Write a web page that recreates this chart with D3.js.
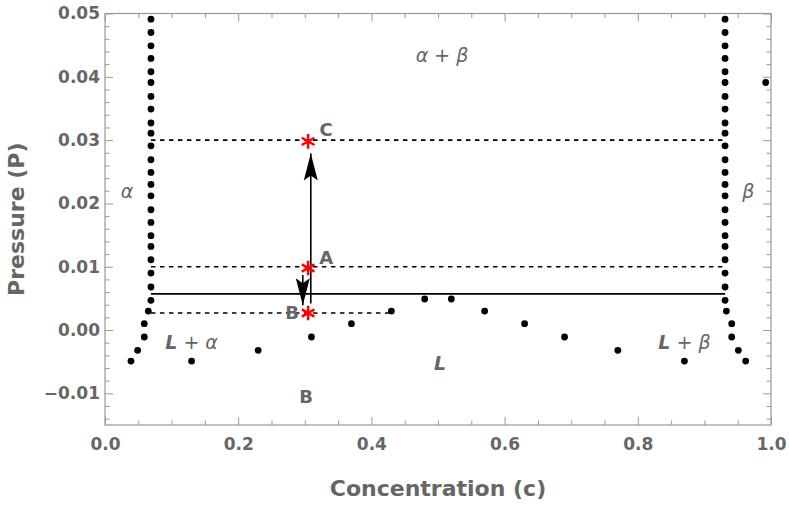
<!DOCTYPE html>
<html>
<head>
<meta charset="utf-8">
<script src="https://cdn.jsdelivr.net/npm/d3@7"></script>
<style>
  body { margin: 0; background: #fff; }
  text { font-family: "DejaVu Sans", sans-serif; fill: #666; }
</style>
</head>
<body>
<div class="chart"></div>
<script>
// data
var colP = [0.0491, 0.0470, 0.0449, 0.0429, 0.0408, 0.0391, 0.0369, 0.0349, 0.0327, 0.0311,
  0.0291, 0.0269, 0.0249, 0.0230, 0.0212, 0.0190, 0.0170, 0.0149, 0.0132, 0.0111,
  0.0090, 0.0068, 0.0047];
var alphaColC = 0.069;
var betaColC = 0.931;
var tailP = [0.0030, 0.0010, -0.0011, -0.0032, -0.0049];
var alphaTailC = [0.065, 0.059, 0.059, 0.049, 0.039];
var betaTailC = [0.933, 0.941, 0.941, 0.951, 0.962];
var liquidC = [0.13, 0.23, 0.31, 0.37, 0.43, 0.48, 0.52, 0.57, 0.63, 0.69, 0.77, 0.87];
var liquidP = [-0.0049, -0.0032, -0.0011, 0.0010, 0.0030, 0.0049, 0.0049, 0.0030, 0.0010, -0.0011, -0.0032, -0.0049];
var strayC = [0.992];
var strayP = [0.0391];

// dashed guide lines: level and where each one stops
var dashLevels = [0.03, 0.01, 0.0027];
var dashEnds = [0.931, 0.931, 0.43];
var tieLineP = 0.0057;

// state points A, B, C
var stateC = 0.305;
var stateP = [0.0298, 0.0098, 0.0027];
var stateNames = ["C", "A", "B"];

// arrows
var arrowC = [0.309, 0.297];
var arrowFrom = [0.0042, 0.0087];
var arrowTo = [0.0279, 0.0039];

var xMajor = [0, 0.2, 0.4, 0.6, 0.8, 1.0];
var yMajor = [-0.01, 0, 0.01, 0.02, 0.03, 0.04, 0.05];

var svgWidth = 789;
var svgHeight = 506;
var margin = { top: 13.5, right: 18, bottom: 81, left: 105 };
var width = svgWidth - margin.left - margin.right;
var height = svgHeight - margin.top - margin.bottom;

var svg = d3.select(".chart")
  .append("svg")
  .attr("width", svgWidth)
  .attr("height", svgHeight);

var chartGroup = svg.append("g")
  .attr("transform", `translate(${margin.left}, ${margin.top})`);

var xScale = d3.scaleLinear().domain([0, 1]).range([0, width]);
var yScale = d3.scaleLinear().domain([-0.015, 0.05]).range([height, 0]);

var xMinor = d3.range(0, 1.0001, 0.05).filter(d => Math.abs(d * 5 - Math.round(d * 5)) > 1e-6);
var yMinor = d3.range(-0.014, 0.0501, 0.002).filter(d => Math.abs(d * 100 - Math.round(d * 100)) > 1e-6);

function styleAxis(g) {
  g.select(".domain").remove();
  g.selectAll("line").attr("stroke", "#999");
  g.selectAll("text")
    .style("font-family", "DejaVu Sans")
    .style("font-weight", "bold")
    .style("font-size", "17px")
    .attr("fill", "#666");
}

// bottom
chartGroup.append("g")
  .attr("transform", `translate(0, ${height})`)
  .call(d3.axisBottom(xScale).tickValues(xMajor).tickSize(-8).tickPadding(13).tickFormat(d3.format(".1f")))
  .call(styleAxis);
chartGroup.append("g")
  .attr("transform", `translate(0, ${height})`)
  .call(d3.axisBottom(xScale).tickValues(xMinor).tickSize(-4.5).tickFormat(""))
  .call(styleAxis);
// top
chartGroup.append("g")
  .call(d3.axisTop(xScale).tickValues(xMajor).tickSize(-8).tickFormat(""))
  .call(styleAxis);
chartGroup.append("g")
  .call(d3.axisTop(xScale).tickValues(xMinor).tickSize(-4.5).tickFormat(""))
  .call(styleAxis);
// left
chartGroup.append("g")
  .call(d3.axisLeft(yScale).tickValues(yMajor).tickSize(-8).tickPadding(5).tickFormat(d3.format(".2f")))
  .call(styleAxis);
chartGroup.append("g")
  .call(d3.axisLeft(yScale).tickValues(yMinor).tickSize(-4.5).tickFormat(""))
  .call(styleAxis);
// right
chartGroup.append("g")
  .attr("transform", `translate(${width}, 0)`)
  .call(d3.axisRight(yScale).tickValues(yMajor).tickSize(-8).tickFormat(""))
  .call(styleAxis);
chartGroup.append("g")
  .attr("transform", `translate(${width}, 0)`)
  .call(d3.axisRight(yScale).tickValues(yMinor).tickSize(-4.5).tickFormat(""))
  .call(styleAxis);

// frame
chartGroup.append("rect")
  .attr("width", width)
  .attr("height", height)
  .attr("fill", "none")
  .attr("stroke", "#999")
  .attr("stroke-width", 1.2);

// dashed guides
chartGroup.selectAll(".dash")
  .data(dashLevels)
  .enter()
  .append("line")
  .attr("x1", xScale(alphaColC))
  .attr("x2", (d, i) => xScale(dashEnds[i]))
  .attr("y1", d => yScale(d))
  .attr("y2", d => yScale(d))
  .attr("stroke", "#000")
  .attr("stroke-width", 1.6)
  .attr("stroke-dasharray", "4.5,4.5");

// tie line
chartGroup.append("line")
  .attr("x1", xScale(alphaColC))
  .attr("x2", xScale(betaColC))
  .attr("y1", yScale(tieLineP))
  .attr("y2", yScale(tieLineP))
  .attr("stroke", "#000")
  .attr("stroke-width", 1.8);

// arrows
svg.append("defs").append("marker")
  .attr("id", "head")
  .attr("markerUnits", "userSpaceOnUse")
  .attr("viewBox", "-28 -8 30 16")
  .attr("markerWidth", 30)
  .attr("markerHeight", 16)
  .attr("refX", 0)
  .attr("refY", 0)
  .attr("orient", "auto")
  .append("path")
  .attr("d", "M0,0 L-27,-7 L-22,0 L-27,7 Z")
  .attr("fill", "#000");

chartGroup.selectAll(".arrow")
  .data(arrowC)
  .enter()
  .append("line")
  .attr("x1", d => xScale(d))
  .attr("x2", d => xScale(d))
  .attr("y1", (d, i) => yScale(arrowFrom[i]))
  .attr("y2", (d, i) => yScale(arrowTo[i]))
  .attr("stroke", "#000")
  .attr("stroke-width", 1.6)
  .attr("marker-end", "url(#head)");

// dots
var dots = [];
colP.forEach(function(p) {
  dots.push([alphaColC, p]);
  dots.push([betaColC, p]);
});
tailP.forEach(function(p, i) {
  dots.push([alphaTailC[i], p]);
  dots.push([betaTailC[i], p]);
});
liquidC.forEach(function(c, i) { dots.push([c, liquidP[i]]); });
strayC.forEach(function(c, i) { dots.push([c, strayP[i]]); });

chartGroup.selectAll(".dot")
  .data(dots)
  .enter()
  .append("circle")
  .attr("cx", d => xScale(d[0]))
  .attr("cy", d => yScale(d[1]))
  .attr("r", 3.4)
  .attr("fill", "#000");

// state stars
chartGroup.selectAll(".star")
  .data(stateP)
  .enter()
  .append("path")
  .attr("transform", d => `translate(${xScale(stateC)}, ${yScale(d)})`)
  .attr("d", d3.symbol().type(d3.symbolAsterisk).size(150))
  .attr("fill", "none")
  .attr("stroke", "red")
  .attr("stroke-width", 2.5);

// state letters
var letterDx = [18, 18, -16];
var letterDy = [-5, -4, 6];
chartGroup.selectAll(".stateText")
  .data(stateNames)
  .enter()
  .append("text")
  .attr("x", (d, i) => xScale(stateC) + letterDx[i])
  .attr("y", (d, i) => yScale(stateP[i]) + letterDy[i])
  .attr("text-anchor", "middle")
  .style("font-weight", "bold")
  .style("font-size", "18px")
  .text(d => d);

// region labels
function regionLabel(c, p, parts, size) {
  var t = chartGroup.append("text")
    .attr("x", xScale(c))
    .attr("y", yScale(p))
    .attr("text-anchor", "middle")
    .style("font-size", size + "px");
  parts.forEach(function(part) {
    t.append("tspan")
      .style("font-style", part[1])
      .style("font-weight", part[2])
      .text(part[0]);
  });
}
regionLabel(0.033, 0.0209, [["α", "italic", "normal"]], 19);
regionLabel(0.966, 0.0209, [["β", "italic", "normal"]], 19);
regionLabel(0.506, 0.0423, [["α", "italic", "normal"], [" + ", "normal", "normal"], ["β", "italic", "normal"]], 19);
regionLabel(0.13, -0.003, [["L", "italic", "bold"], [" + ", "normal", "normal"], ["α", "italic", "normal"]], 19);
regionLabel(0.87, -0.003, [["L", "italic", "bold"], [" + ", "normal", "normal"], ["β", "italic", "normal"]], 19);
regionLabel(0.503, -0.0063, [["L", "italic", "bold"]], 19);
regionLabel(0.302, -0.0115, [["B", "normal", "bold"]], 18);

// axis titles
svg.append("text")
  .attr("transform", "rotate(-90)")
  .attr("x", -(margin.top + height / 2))
  .attr("y", 24)
  .attr("text-anchor", "middle")
  .style("font-weight", "bold")
  .style("font-size", "22px")
  .text("Pressure (P)");

svg.append("text")
  .attr("x", margin.left + width / 2)
  .attr("y", 496)
  .attr("text-anchor", "middle")
  .style("font-weight", "bold")
  .style("font-size", "22px")
  .text("Concentration (c)");
</script>
</body>
</html>
